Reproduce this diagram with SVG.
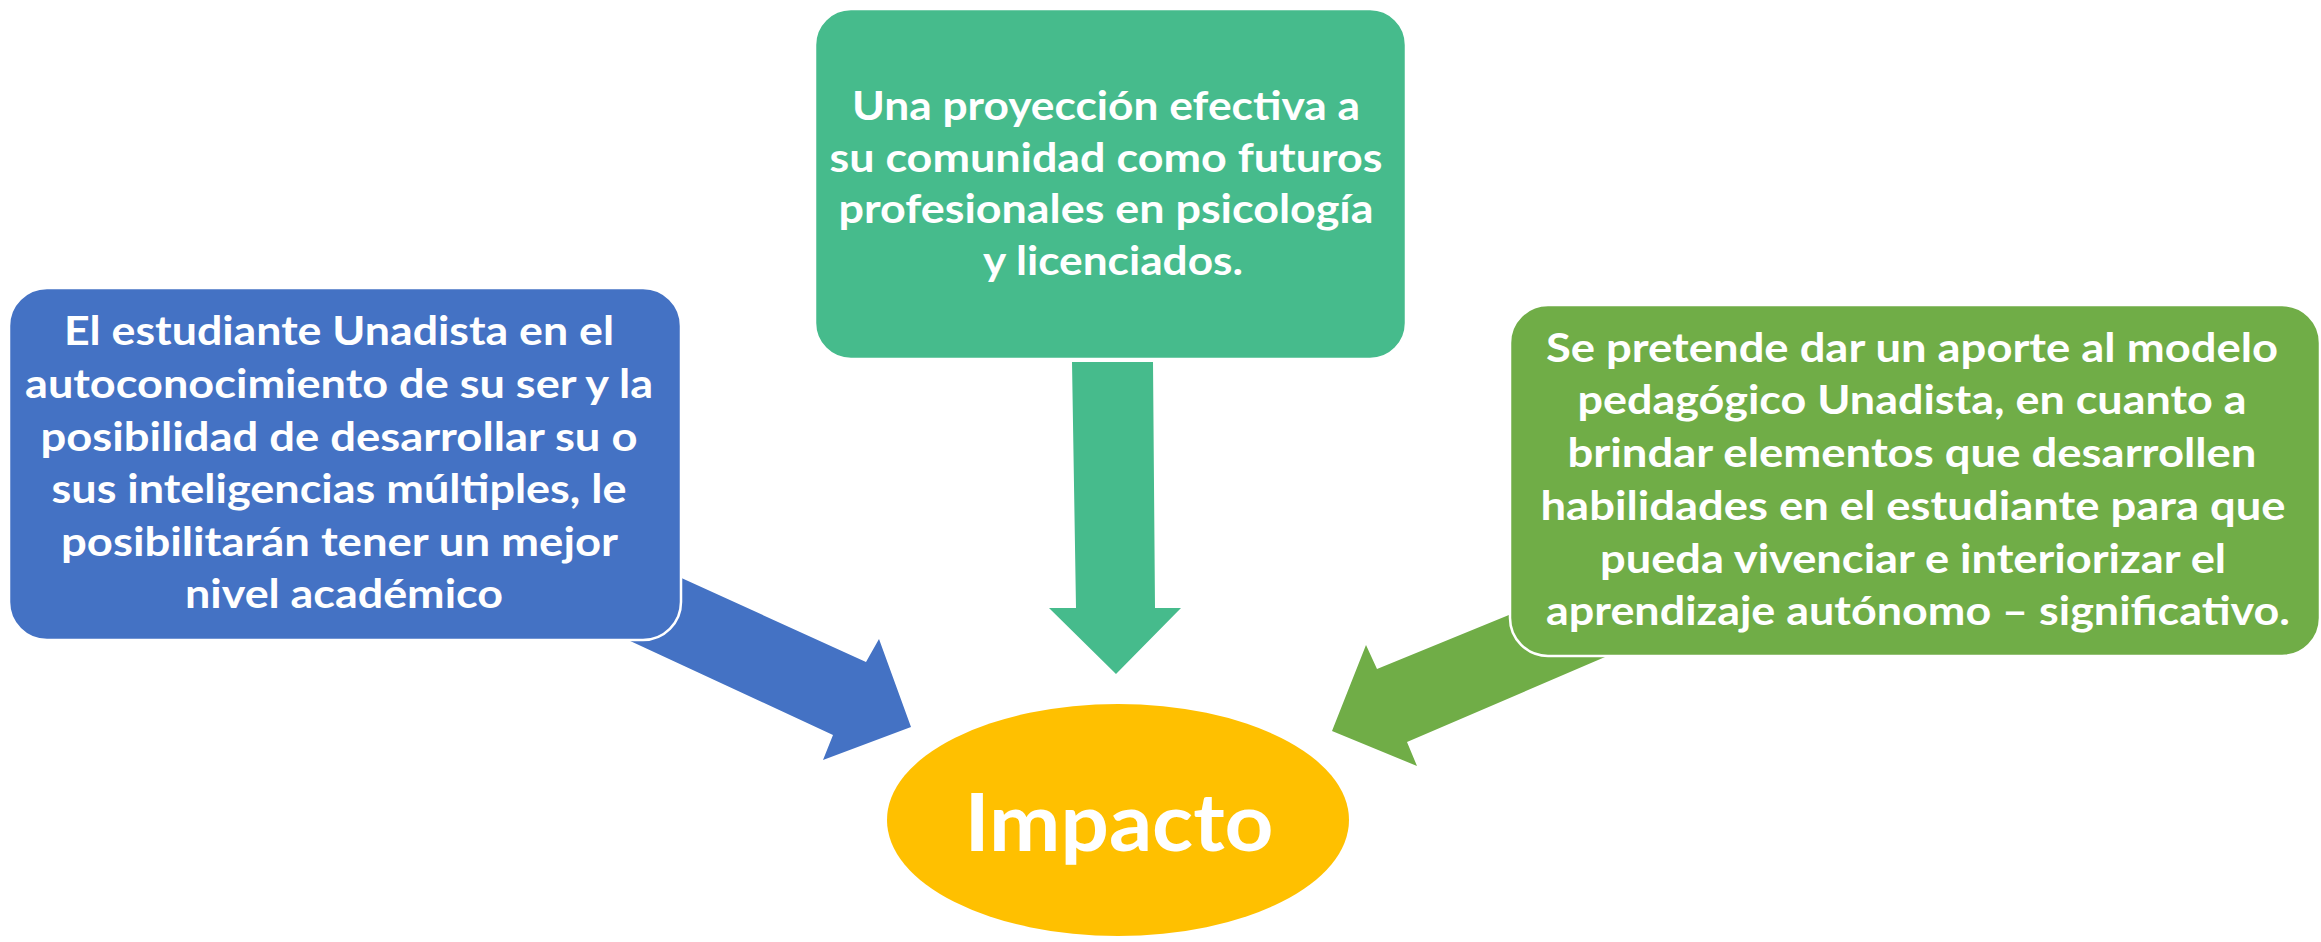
<svg xmlns="http://www.w3.org/2000/svg" width="2321" height="942" viewBox="0 0 2321 942">
<style>
.box{stroke:#ffffff;stroke-width:2.5}
.t{font-family:Lato,"Open Sans","Liberation Sans",sans-serif;font-weight:bold;fill:#ffffff;text-anchor:middle}
.s{font-size:41px}
</style>
<rect width="2321" height="942" fill="#ffffff"/>
<g id="connectors">
<polygon points="600,541 866,662 879,639 911,727 823,760 833,735 600,627" fill="#4472C4"/>
<polygon points="1072,362 1076,608 1049,608 1116,674 1181,608 1155,608 1153,362" fill="#46BB8C"/>
<polygon points="1560,594 1377,669 1366,645 1332,731 1417,766 1407,742 1640,642" fill="#70AD47"/>
</g>
<g id="node-left">
<rect class="box" x="9" y="288" width="672" height="352" rx="38" fill="#4472C4"/>
<text class="t s" lengthAdjust="spacingAndGlyphs">
<tspan x="344" y="345" textLength="550" lengthAdjust="spacingAndGlyphs">El estudiante Unadista en el</tspan>
<tspan x="344" y="398" textLength="628" lengthAdjust="spacingAndGlyphs">autoconocimiento de su ser y la</tspan>
<tspan x="344" y="451" textLength="597" lengthAdjust="spacingAndGlyphs">posibilidad de desarrollar su o</tspan>
<tspan x="344" y="503" textLength="575" lengthAdjust="spacingAndGlyphs">sus inteligencias múltiples, le</tspan>
<tspan x="344" y="556" textLength="556" lengthAdjust="spacingAndGlyphs">posibilitarán tener un mejor</tspan>
<tspan x="344" y="608" textLength="318" lengthAdjust="spacingAndGlyphs">nivel académico</tspan>
</text>
</g>
<g id="node-top">
<rect class="box" x="815" y="9" width="591" height="350" rx="36" fill="#46BB8C"/>
<text class="t s">
<tspan x="1111" y="120" textLength="508" lengthAdjust="spacingAndGlyphs">Una proyección efectiva a</tspan>
<tspan x="1111" y="172" textLength="553" lengthAdjust="spacingAndGlyphs">su comunidad como futuros</tspan>
<tspan x="1111" y="223" textLength="535" lengthAdjust="spacingAndGlyphs">profesionales en psicología</tspan>
<tspan x="1113" y="275" textLength="260" lengthAdjust="spacingAndGlyphs">y licenciados.</tspan>
</text>
</g>
<g id="node-right">
<rect class="box" x="1510" y="305" width="810" height="351" rx="38" fill="#70AD47"/>
<text class="t s">
<tspan x="1917" y="362" textLength="732" lengthAdjust="spacingAndGlyphs">Se pretende dar un aporte al modelo</tspan>
<tspan x="1917" y="414" textLength="669" lengthAdjust="spacingAndGlyphs">pedagógico Unadista, en cuanto a</tspan>
<tspan x="1917" y="467" textLength="689" lengthAdjust="spacingAndGlyphs">brindar elementos que desarrollen</tspan>
<tspan x="1918" y="520" textLength="745" lengthAdjust="spacingAndGlyphs">habilidades en el estudiante para que</tspan>
<tspan x="1918" y="573" textLength="626" lengthAdjust="spacingAndGlyphs">pueda vivenciar e interiorizar el</tspan>
<tspan x="1918" y="625" textLength="744" lengthAdjust="spacingAndGlyphs">aprendizaje autónomo – significativo.</tspan>
</text>
</g>
<g id="node-center">
<ellipse cx="1118" cy="820" rx="231" ry="116" fill="#FFC000"/>
<text class="t" x="1119" y="851" font-size="80" textLength="309" lengthAdjust="spacingAndGlyphs">Impacto</text>
</g>
</svg>
